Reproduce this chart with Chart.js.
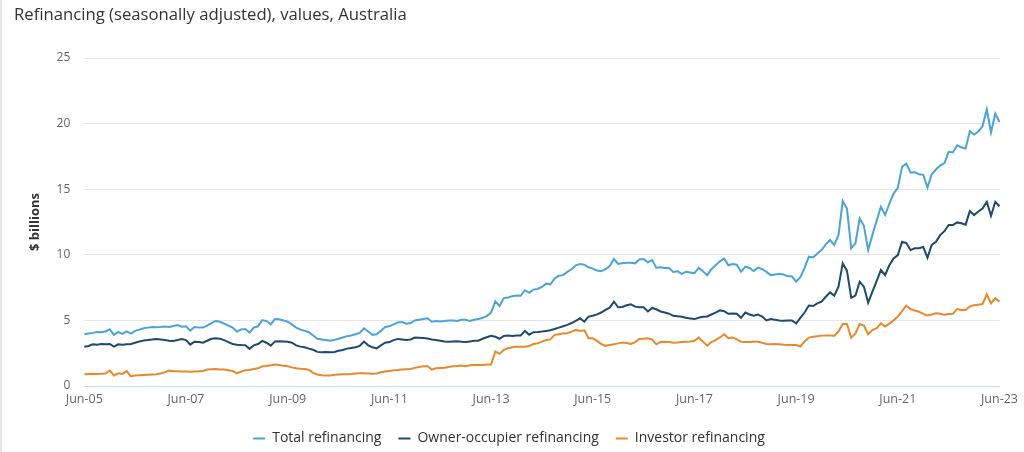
<!DOCTYPE html>
<html>
<head>
<meta charset="utf-8">
<script src="https://cdn.jsdelivr.net/npm/chart.js@4.4.1/dist/chart.umd.min.js"></script>
<style>
  html, body { margin: 0; padding: 0; background: #fff; }
  #wrap { position: relative; width: 1024px; height: 452px; }
  #edge { position: absolute; left: 0; top: 0; width: 2px; height: 452px; background: #e6e6e6; }
</style>
</head>
<body>
<div id="wrap">
  <div id="edge"></div>
  <canvas id="chart" width="1024" height="452"></canvas>
</div>
<script>
// monthly, Jun-05 .. Jun-23 ($ billions)
const startYear = 2005, startMonth = 5; // June
const tickLabels = ["Jun-05","Jun-07","Jun-09","Jun-11","Jun-13","Jun-15","Jun-17","Jun-19","Jun-21","Jun-23"];

const totalRefi = [
  3.94,4.00,4.05,4.12,4.10,4.15,4.32,3.90,4.12,3.97,4.17,4.00,
  4.20,4.30,4.40,4.45,4.50,4.48,4.50,4.53,4.50,4.58,4.65,4.52,
  4.55,4.22,4.50,4.45,4.45,4.60,4.80,4.96,4.90,4.75,4.60,4.45,
  4.15,4.30,4.35,4.07,4.45,4.55,5.03,4.95,4.70,5.10,5.08,5.00,
  4.90,4.70,4.45,4.30,4.20,4.10,3.85,3.60,3.55,3.50,3.45,3.50,
  3.60,3.70,3.80,3.85,3.95,4.05,4.40,4.15,3.90,3.95,4.20,4.50,
  4.55,4.70,4.85,4.88,4.75,4.80,5.00,5.05,5.10,5.16,4.90,4.95,
  4.92,4.95,5.00,5.00,4.95,5.05,5.05,4.95,5.05,5.10,5.20,5.35,
  5.60,6.45,6.10,6.70,6.75,6.85,6.90,6.88,7.30,7.10,7.35,7.40,
  7.55,7.80,7.75,8.20,8.40,8.45,8.70,8.90,9.20,9.30,9.25,9.05,
  8.95,8.80,8.75,8.90,9.15,9.68,9.30,9.35,9.40,9.40,9.35,9.65,
  9.68,9.43,9.60,9.02,9.05,9.00,9.00,8.70,8.75,8.55,8.70,8.65,
  8.60,9.00,8.75,8.45,8.90,9.20,9.50,9.73,9.20,9.30,9.25,8.70,
  9.10,9.00,8.77,9.02,8.90,8.70,8.45,8.50,8.55,8.50,8.38,8.35,
  7.95,8.30,9.00,9.86,9.80,10.10,10.36,10.80,11.13,10.75,11.50,14.10,
  13.53,10.49,10.87,12.77,12.21,10.36,11.50,12.60,13.66,13.03,13.90,14.67,
  15.10,16.70,16.96,16.27,16.30,16.14,16.10,15.13,16.14,16.50,16.80,17.00,
  17.85,17.80,18.35,18.20,18.10,19.42,19.17,19.40,19.80,21.10,19.32,20.76,
  20.13
];

const ownerOccRefi = [
  3.00,3.05,3.18,3.15,3.20,3.18,3.20,3.00,3.18,3.15,3.18,3.20,
  3.30,3.40,3.46,3.50,3.55,3.58,3.55,3.50,3.45,3.43,3.50,3.58,
  3.50,3.15,3.38,3.35,3.30,3.45,3.60,3.64,3.60,3.50,3.35,3.20,
  3.15,3.12,3.10,2.83,3.10,3.20,3.44,3.30,3.08,3.40,3.42,3.40,
  3.38,3.30,3.10,3.00,2.95,2.85,2.76,2.60,2.57,2.60,2.57,2.60,
  2.68,2.75,2.85,2.90,2.95,3.05,3.39,3.10,2.95,2.87,3.10,3.30,
  3.35,3.50,3.59,3.55,3.50,3.55,3.69,3.68,3.65,3.62,3.55,3.50,
  3.45,3.39,3.38,3.40,3.42,3.38,3.35,3.40,3.45,3.45,3.60,3.72,
  3.82,3.75,3.60,3.82,3.85,3.82,3.85,3.85,4.20,3.90,4.10,4.12,
  4.15,4.20,4.25,4.35,4.45,4.55,4.66,4.80,4.96,5.16,4.90,5.29,
  5.35,5.46,5.60,5.80,5.97,6.43,6.00,6.02,6.15,6.23,6.05,6.00,
  6.00,5.68,5.95,5.85,5.68,5.60,5.51,5.35,5.32,5.28,5.20,5.15,
  5.10,5.20,5.28,5.30,5.45,5.60,5.77,5.70,5.50,5.52,5.50,5.20,
  5.60,5.45,5.35,5.45,5.30,5.00,5.10,5.05,5.00,4.98,5.00,5.00,
  4.78,5.20,5.60,6.13,6.10,6.30,6.43,6.80,7.14,6.89,7.57,9.35,
  8.77,6.73,6.89,7.95,7.57,6.35,7.20,8.00,8.84,8.46,9.20,9.73,
  9.98,11.00,10.90,10.36,10.50,10.50,10.60,9.78,10.75,11.00,11.50,11.80,
  12.27,12.27,12.47,12.40,12.30,13.33,13.03,13.30,13.53,14.04,12.97,14.04,
  13.70
];

const investorRefi = [
  0.90,0.92,0.93,0.92,0.93,0.95,1.18,0.80,0.97,0.92,1.13,0.74,
  0.80,0.82,0.84,0.86,0.88,0.90,0.95,1.05,1.17,1.12,1.12,1.10,
  1.10,1.08,1.10,1.12,1.15,1.25,1.28,1.30,1.25,1.25,1.20,1.15,
  0.97,1.10,1.20,1.22,1.30,1.35,1.50,1.52,1.58,1.63,1.60,1.55,
  1.50,1.42,1.35,1.32,1.30,1.22,1.00,0.88,0.82,0.80,0.80,0.85,
  0.88,0.90,0.90,0.92,0.95,0.97,0.97,0.95,0.93,0.95,1.05,1.10,
  1.15,1.20,1.22,1.25,1.28,1.30,1.38,1.45,1.50,1.51,1.25,1.35,
  1.38,1.40,1.45,1.50,1.52,1.56,1.50,1.58,1.60,1.60,1.61,1.63,
  1.63,2.63,2.45,2.75,2.88,2.95,3.00,3.00,3.00,3.05,3.20,3.26,
  3.38,3.50,3.55,3.90,3.95,4.00,4.02,4.15,4.28,4.20,4.25,3.64,
  3.64,3.44,3.20,3.06,3.12,3.18,3.25,3.31,3.28,3.20,3.35,3.59,
  3.60,3.64,3.55,3.18,3.35,3.38,3.35,3.30,3.32,3.35,3.38,3.40,
  3.45,3.69,3.40,3.08,3.35,3.50,3.70,3.94,3.65,3.70,3.55,3.38,
  3.35,3.35,3.38,3.38,3.30,3.20,3.18,3.20,3.18,3.15,3.13,3.13,
  3.13,3.01,3.40,3.69,3.75,3.80,3.84,3.85,3.85,3.84,4.15,4.73,
  4.73,3.69,4.00,4.73,4.60,3.94,4.26,4.40,4.78,4.53,4.75,5.00,
  5.30,5.70,6.13,5.87,5.75,5.66,5.50,5.37,5.45,5.55,5.50,5.43,
  5.48,5.50,5.87,5.80,5.80,6.07,6.15,6.20,6.25,6.98,6.30,6.69,
  6.43
];

const monthNames = ["Jan","Feb","Mar","Apr","May","Jun","Jul","Aug","Sep","Oct","Nov","Dec"];
const months = totalRefi.map((_, i) => {
  const m = startMonth + i;
  const yr = startYear + Math.floor(m / 12);
  return monthNames[m % 12] + "-" + String(yr).slice(2);
});

const seriesList = [
  { label: "Total refinancing", data: totalRefi, color: "#4da3d8" },
  { label: "Owner-occupier refinancing", data: ownerOccRefi, color: "#1d4a6e" },
  { label: "Investor refinancing", data: investorRefi, color: "#e8892b" },
];

Chart.defaults.font.family = "'Open Sans', sans-serif";

// legend: wide gaps between items but a short box
const legendTrim = {
  id: "legendTrim",
  afterInit(chart) {
    const lg = chart.legend;
    if (!lg) return;
    const fit = lg.fit;
    lg.fit = function() { fit.call(this); this.height -= 3.5; };
  }
};

new Chart(document.getElementById("chart"), {
  type: "line",
  data: {
    labels: months,
    datasets: seriesList.map(s => ({
      label: s.label,
      data: s.data,
      borderColor: s.color,
      backgroundColor: s.color,
      borderWidth: 2,
      pointRadius: 0,
      tension: 0,
    })),
  },
  plugins: [legendTrim],
  options: {
    responsive: false,
    animation: false,
    layout: { padding: { left: 14, right: 20, top: 4, bottom: 0 } },
    plugins: {
      title: {
        display: true,
        text: "Refinancing (seasonally adjusted), values, Australia",
        align: "start",
        color: "#333333",
        font: { size: 16.7, weight: "normal" },
        padding: { top: 1, bottom: 33 },
      },
      legend: {
        position: "bottom",
        labels: {
          usePointStyle: true,
          pointStyle: "line",
          pointStyleWidth: 12,
          color: "#333333",
          font: { size: 14 },
          padding: 17,
        },
      },
      tooltip: { enabled: false },
    },
    scales: {
      x: {
        grid: { display: false, drawTicks: false },
        border: { color: "#ccd6eb" },
        afterFit: (scale) => { scale.height += 1.5; },
        ticks: {
          color: "#666666",
          font: { size: 12.5 },
          autoSkip: false,
          maxRotation: 0,
          padding: 6,
          callback: function(val) {
            const lab = this.getLabelForValue(val);
            return tickLabels.includes(lab) ? lab : null;
          },
        },
      },
      y: {
        min: 0,
        max: 25,
        grid: { color: "#e6e6e6", drawTicks: false },
        border: { display: false },
        ticks: { stepSize: 5, color: "#666666", font: { size: 12 }, padding: 14 },
        title: {
          display: true,
          text: "$ billions",
          color: "#333333",
          font: { size: 13, weight: "bold" },
          padding: { top: 13, bottom: 0 },
        },
      },
    },
  },
});
</script>
</body>
</html>
